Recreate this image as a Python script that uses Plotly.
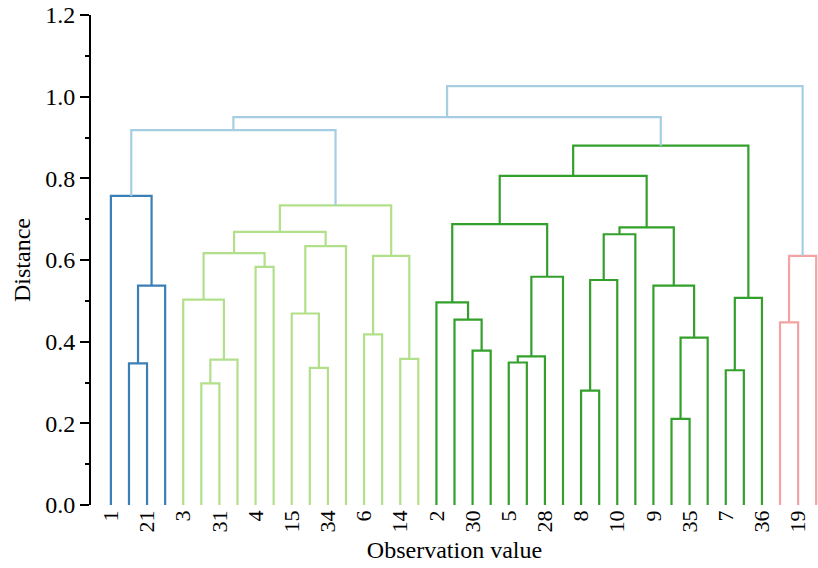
import plotly.graph_objects as go

# ---------------- data ----------------
n_leaves = 40
# labels visible on every second leaf (left to right)
tick_labels = ["1", "21", "3", "31", "4", "15", "34", "6", "14", "2",
               "30", "5", "28", "8", "10", "9", "35", "7", "36", "19"]

# merges: node ids 0..39 are leaves (in display order), new clusters get 40, 41, ...
merge_left = [1, 40, 0,
              5, 43, 4, 8, 45, 11, 10, 49, 47, 14, 16, 52, 51,
              20, 19, 18, 22, 59, 60, 58, 26, 63, 64, 31, 66, 30, 65, 62, 34, 71, 70,
              37, 74,
              42, 76, 77]
merge_right = [2, 3, 41,
               6, 7, 44, 9, 46, 12, 48, 13, 50, 15, 17, 53, 54,
               21, 56, 57, 23, 24, 25, 61, 27, 28, 29, 32, 33, 67, 68, 69, 35, 36, 72,
               38, 39,
               55, 73, 75]
merge_height = [0.347, 0.537, 0.757,
                0.298, 0.356, 0.503, 0.583, 0.617, 0.336, 0.469, 0.634, 0.669, 0.418, 0.358, 0.610, 0.734,
                0.378, 0.454, 0.496, 0.349, 0.364, 0.559, 0.688, 0.280, 0.551, 0.663, 0.211, 0.410, 0.537,
                0.680, 0.806, 0.330, 0.507, 0.880,
                0.447, 0.610,
                0.918, 0.950, 1.026]

color_threshold = 0.9
cluster_colors = ["#3a7fb8", "#b2df8a", "#33a02c", "#f4a3a2"]
above_color = "#a6cee3"

# ---------------- geometry from the merge table ----------------
pos = [float(i) for i in range(n_leaves)]
hgt = [0.0] * n_leaves
parent = {}
for k, (a, b, h) in enumerate(zip(merge_left, merge_right, merge_height)):
    node = n_leaves + k
    pos.append((pos[a] + pos[b]) / 2)
    hgt.append(h)
    parent[a] = node
    parent[b] = node


def cluster_root(node):
    while node in parent and hgt[parent[node]] < color_threshold:
        node = parent[node]
    return node


roots = sorted({cluster_root(n_leaves + k) for k, h in enumerate(merge_height) if h < color_threshold},
               key=lambda n: pos[n])
root_color = {r: cluster_colors[i % len(cluster_colors)] for i, r in enumerate(roots)}

segments = {}
for k, (a, b, h) in enumerate(zip(merge_left, merge_right, merge_height)):
    node = n_leaves + k
    col = root_color[cluster_root(node)] if h < color_threshold else above_color
    xs, ys = segments.setdefault(col, ([], []))
    xs += [pos[a], pos[a], pos[b], pos[b], None]
    ys += [hgt[a], h, h, hgt[b], None]

fig = go.Figure()
for col, (xs, ys) in segments.items():
    fig.add_trace(go.Scatter(x=xs, y=ys, mode="lines",
                             line=dict(color=col, width=2.2),
                             hoverinfo="skip", showlegend=False))

font_family = "Liberation Serif, Times New Roman, serif"
fig.update_layout(
    width=818, height=568,
    margin=dict(l=91, r=0, t=15, b=63, autoexpand=False),
    paper_bgcolor="white", plot_bgcolor="white",
    font=dict(family=font_family, color="black"),
    xaxis=dict(range=[-1.1, n_leaves - 0.9],
               automargin=False,
               tickmode="array",
               tickvals=list(range(0, n_leaves, 2)),
               ticktext=tick_labels,
               tickangle=-90,
               ticks="", showline=False, showgrid=False, zeroline=False,
               tickfont=dict(size=22, family=font_family),
               title=dict(text="Observation value", font=dict(size=24, family=font_family),
                          standoff=9)),
    yaxis=dict(range=[0, 1.2], dtick=0.2, tickformat=".1f",
               automargin=False,
               showline=True, linecolor="black", linewidth=2,
               ticks="outside", ticklen=9, tickwidth=2, tickcolor="black",
               minor=dict(dtick=0.1, ticklen=4, tickwidth=2, tickcolor="black", ticks="outside"),
               showgrid=False, zeroline=False,
               tickfont=dict(size=24, family=font_family),
               title=dict(text="Distance", font=dict(size=24, family=font_family), standoff=8)),
)

fig.write_html("out.html", config={"displayModeBar": False},
               post_script="document.body.style.margin='0';document.body.style.overflow='hidden';")
